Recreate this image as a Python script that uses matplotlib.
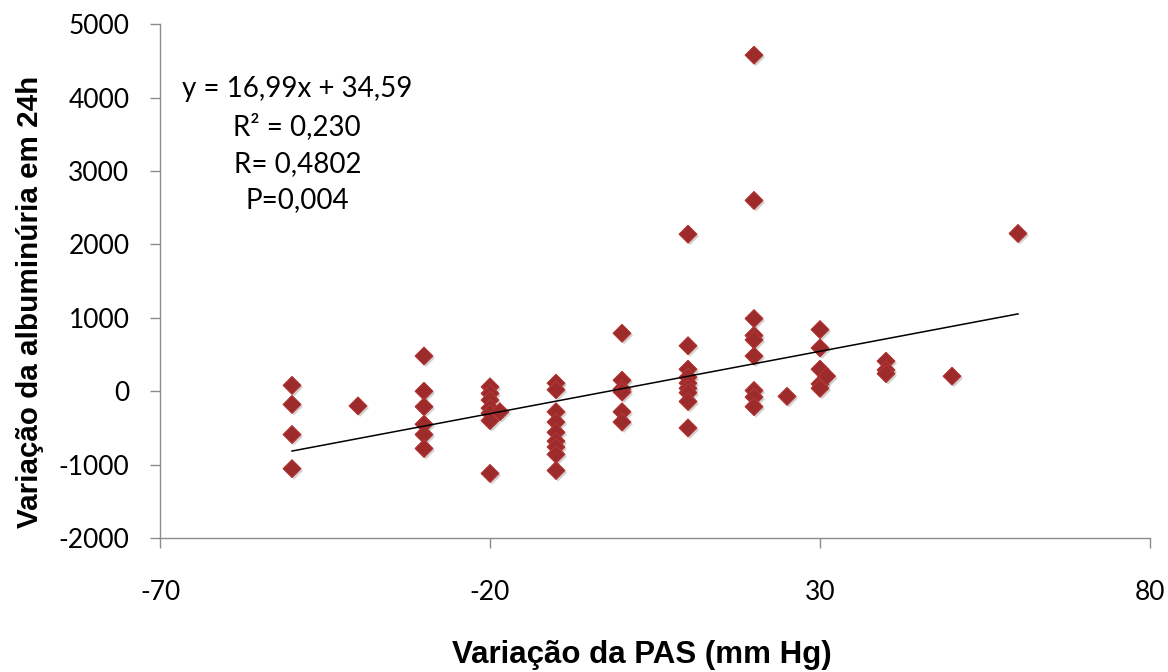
import matplotlib
matplotlib.use("Agg")
import matplotlib.pyplot as plt
import matplotlib.patheffects as pe
import numpy as np

plt.rcParams["axes.unicode_minus"] = False

# Variação da PAS (x) e variação da albuminúria em 24h (y)
pas = [-50, -50, -50, -50,
       -40,
       -30, -30, -30, -30, -30, -30,
       -20, -20, -20, -20, -20, -20, -20, -18.5,
       -10, -10, -10, -10, -10, -10, -10, -10, -10,
       0, 0, 0, 0, 0, 0,
       10, 10, 10, 10, 10, 10, 10, 10, 10,
       20, 20, 20, 20, 20, 20, 20, 20, 20,
       25,
       30, 30, 30, 30, 30, 31,
       40, 40, 40,
       50, 60]
albu = [80, -180, -590, -1055,
        -200,
        480, 0, -210, -450, -590, -780,
        60, -30, -120, -230, -300, -400, -1120, -280,
        110, 20, -280, -420, -560, -680, -760, -860, -1080,
        790, 150, 30, -10, -280, -420,
        2140, 620, 300, 190, 110, 40, -20, -140, -500,
        4580, 2600, 990, 760, 700, 480, 10, -80, -210,
        -70,
        840, 590, 300, 100, 40, 205,
        410, 290, 240,
        205, 2150]

slope = 16.99
intercept = 34.59
eq_text = "y = 16,99x + 34,59\nR² = 0,230\nR= 0,4802\nP=0,004"

xticks = [-70, -20, 30, 80]
yticks = [-2000, -1000, 0, 1000, 2000, 3000, 4000, 5000]

fig = plt.figure(figsize=(11.68, 6.72), dpi=100)
ax = fig.add_axes([0.137, 0.1994, 0.8476, 0.7644])

ax.scatter(pas, albu, marker="D", s=82, color="#9E2B2B", edgecolors="#B53A38",
           linewidths=0.6, zorder=3,
           path_effects=[pe.withSimplePatchShadow(offset=(1.5, -1.5), shadow_rgbFace="gray", alpha=0.35),
                         pe.Normal()])

# linha de tendência
xl = np.array([min(pas), max(pas)])
ax.plot(xl, slope * xl + intercept, color="black", lw=1.1, zorder=4)

ax.set_xlim(-70, 80)
ax.set_ylim(-2000, 5000)
ax.set_xticks(xticks)
ax.set_yticks(yticks)

for s in ["top", "right"]:
    ax.spines[s].set_visible(False)
for s in ["left", "bottom"]:
    ax.spines[s].set_color("#8c8c8c")
    ax.spines[s].set_linewidth(1.0)

ax.tick_params(axis="both", direction="out", length=7, width=1.0, color="#8c8c8c",
               labelsize=19, labelcolor="black")
ax.tick_params(axis="x", pad=23)
ax.tick_params(axis="y", pad=15)
for lab in ax.get_xticklabels() + ax.get_yticklabels():
    lab.set_fontfamily("Lato")

ax.text(-49.2, 3360, eq_text, ha="center", va="center", fontsize=20,
        family="Lato", linespacing=1.5)

ax.set_xlabel("Variação da PAS (mm Hg)", fontsize=22.5, fontweight="bold",
              family="Liberation Sans", va="center")
ax.xaxis.set_label_coords(0.487, -0.228)
ax.set_ylabel("Variação da albuminúria em 24h", fontsize=21.3, fontweight="bold",
              family="Liberation Sans", va="center")
ax.yaxis.set_label_coords(-0.131, 0.459)

fig.savefig("out.png", dpi=100)
